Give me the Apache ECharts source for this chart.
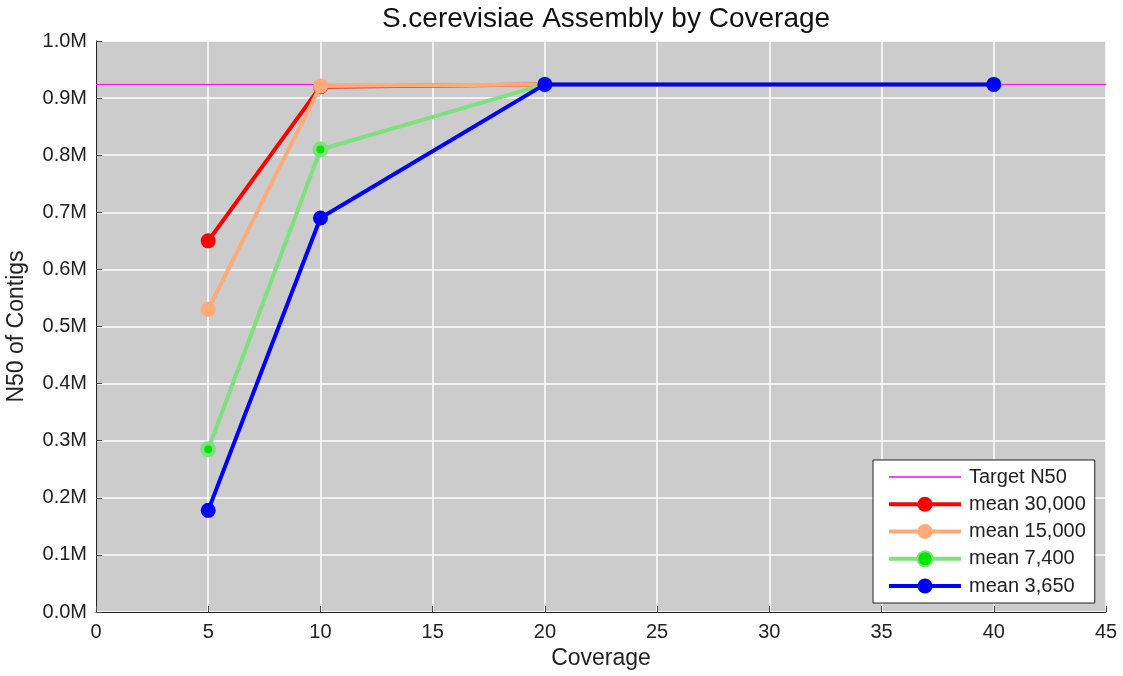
<!DOCTYPE html>
<html>
<head>
<meta charset="utf-8">
<script src="https://cdn.jsdelivr.net/npm/echarts@6/dist/echarts.min.js"></script>
<style>html,body{margin:0;padding:0;background:#fff}#c{width:1123px;height:676px}</style>
</head>
<body>
<div id="c"></div>
<script>
const coverage = [5, 10, 20, 40];
const targetN50 = 924000;
const mean30000 = [650000, 920000, 924000, 924000];
const mean15000 = [530000, 921000, 924000, 924000];
const mean7400 = [285000, 810000, 924000, 924000];
const mean3650 = [178000, 690000, 924000, 924000];
const xTicks = {min: 0, max: 45, interval: 5};
const yTicks = {min: 0, max: 1000000, interval: 100000};

const pairs = (ys) => coverage.map((x, i) => [x, ys[i]]);
const font = 'Liberation Sans, Arial, sans-serif';

const chart = echarts.init(document.getElementById('c'));
function lineSeries(name, ys, color, z, extra) {
  return Object.assign({
    name: name, type: 'line', data: pairs(ys), z: z,
    symbol: 'circle', symbolSize: 15,
    lineStyle: {color: color, width: 4},
    itemStyle: {color: color},
    emphasis: {disabled: true}, animation: false
  }, extra || {});
}
chart.setOption({
  animation: false,
  backgroundColor: '#fff',
  title: {
    text: 'S.cerevisiae Assembly by Coverage', left: 601, textAlign: 'center', top: 0,
    textStyle: {fontFamily: font, fontSize: 28, fontWeight: 'normal', color: '#111'}
  },
  grid: {left: 96, right: 17, top: 41, bottom: 64, show: true, backgroundColor: '#cccccc',
    borderWidth: 0, containLabel: false, outerBoundsMode: 'none'},
  xAxis: {
    type: 'value', min: xTicks.min, max: xTicks.max, interval: xTicks.interval,
    name: 'Coverage', nameLocation: 'middle', nameGap: 35,
    nameTextStyle: {fontFamily: font, fontSize: 23, color: '#222'},
    axisLine: {show: true, onZero: false, lineStyle: {color: '#222', width: 1}},
    axisTick: {show: true, inside: true, length: 6, lineStyle: {color: '#444'}},
    axisLabel: {fontFamily: font, fontSize: 20, color: '#222', margin: 10},
    splitLine: {show: true, lineStyle: {color: '#ffffff', width: 1.5}}
  },
  yAxis: {
    type: 'value', min: yTicks.min, max: yTicks.max, interval: yTicks.interval,
    name: 'N50 of Contigs', nameLocation: 'middle', nameGap: 68,
    nameTextStyle: {fontFamily: font, fontSize: 23, color: '#222'},
    axisLine: {show: true, onZero: false, lineStyle: {color: '#222', width: 1}},
    axisTick: {show: true, inside: true, length: 6, lineStyle: {color: '#444'}},
    axisLabel: {fontFamily: font, fontSize: 20, color: '#222', margin: 9,
      formatter: v => (v / 1e6).toFixed(1) + 'M'},
    splitLine: {show: true, lineStyle: {color: '#ffffff', width: 1.5}}
  },
  legend: {
    orient: 'vertical', left: 873, top: 460,
    backgroundColor: '#fff', borderColor: '#222', borderWidth: 1,
    padding: [6, 9, 6, 14], itemWidth: 72, itemHeight: 19, itemGap: 5.25,
    textStyle: {fontFamily: font, fontSize: 20, lineHeight: 22, color: '#222', padding: [0, 0, 0, 3]},
    lineStyle: {width: 4},
    data: [
      {name: 'Target N50', itemStyle: {opacity: 0}, lineStyle: {width: 1.5, color: '#ff00ff'}},
      'mean 30,000', 'mean 15,000', 'mean 7,400', 'mean 3,650'
    ]
  },
  series: [
    {
      name: 'Target N50', type: 'line', z: 1,
      data: [[xTicks.min, targetN50], [xTicks.max, targetN50]],
      symbol: 'none', lineStyle: {color: '#ff00ff', width: 1}, itemStyle: {color: '#ff00ff'},
      emphasis: {disabled: true}
    },
    lineSeries('mean 30,000', mean30000, '#ff0000', 2),
    lineSeries('mean 15,000', mean15000, '#ffaa78', 3),
    lineSeries('mean 7,400', mean7400, '#7ee07e', 4, {
      itemStyle: {color: '#00e600', borderColor: '#7ee07e', borderWidth: 4}, symbolSize: 12
    }),
    lineSeries('mean 3,650', mean3650, '#0000ff', 5)
  ]
});
</script>
</body>
</html>
